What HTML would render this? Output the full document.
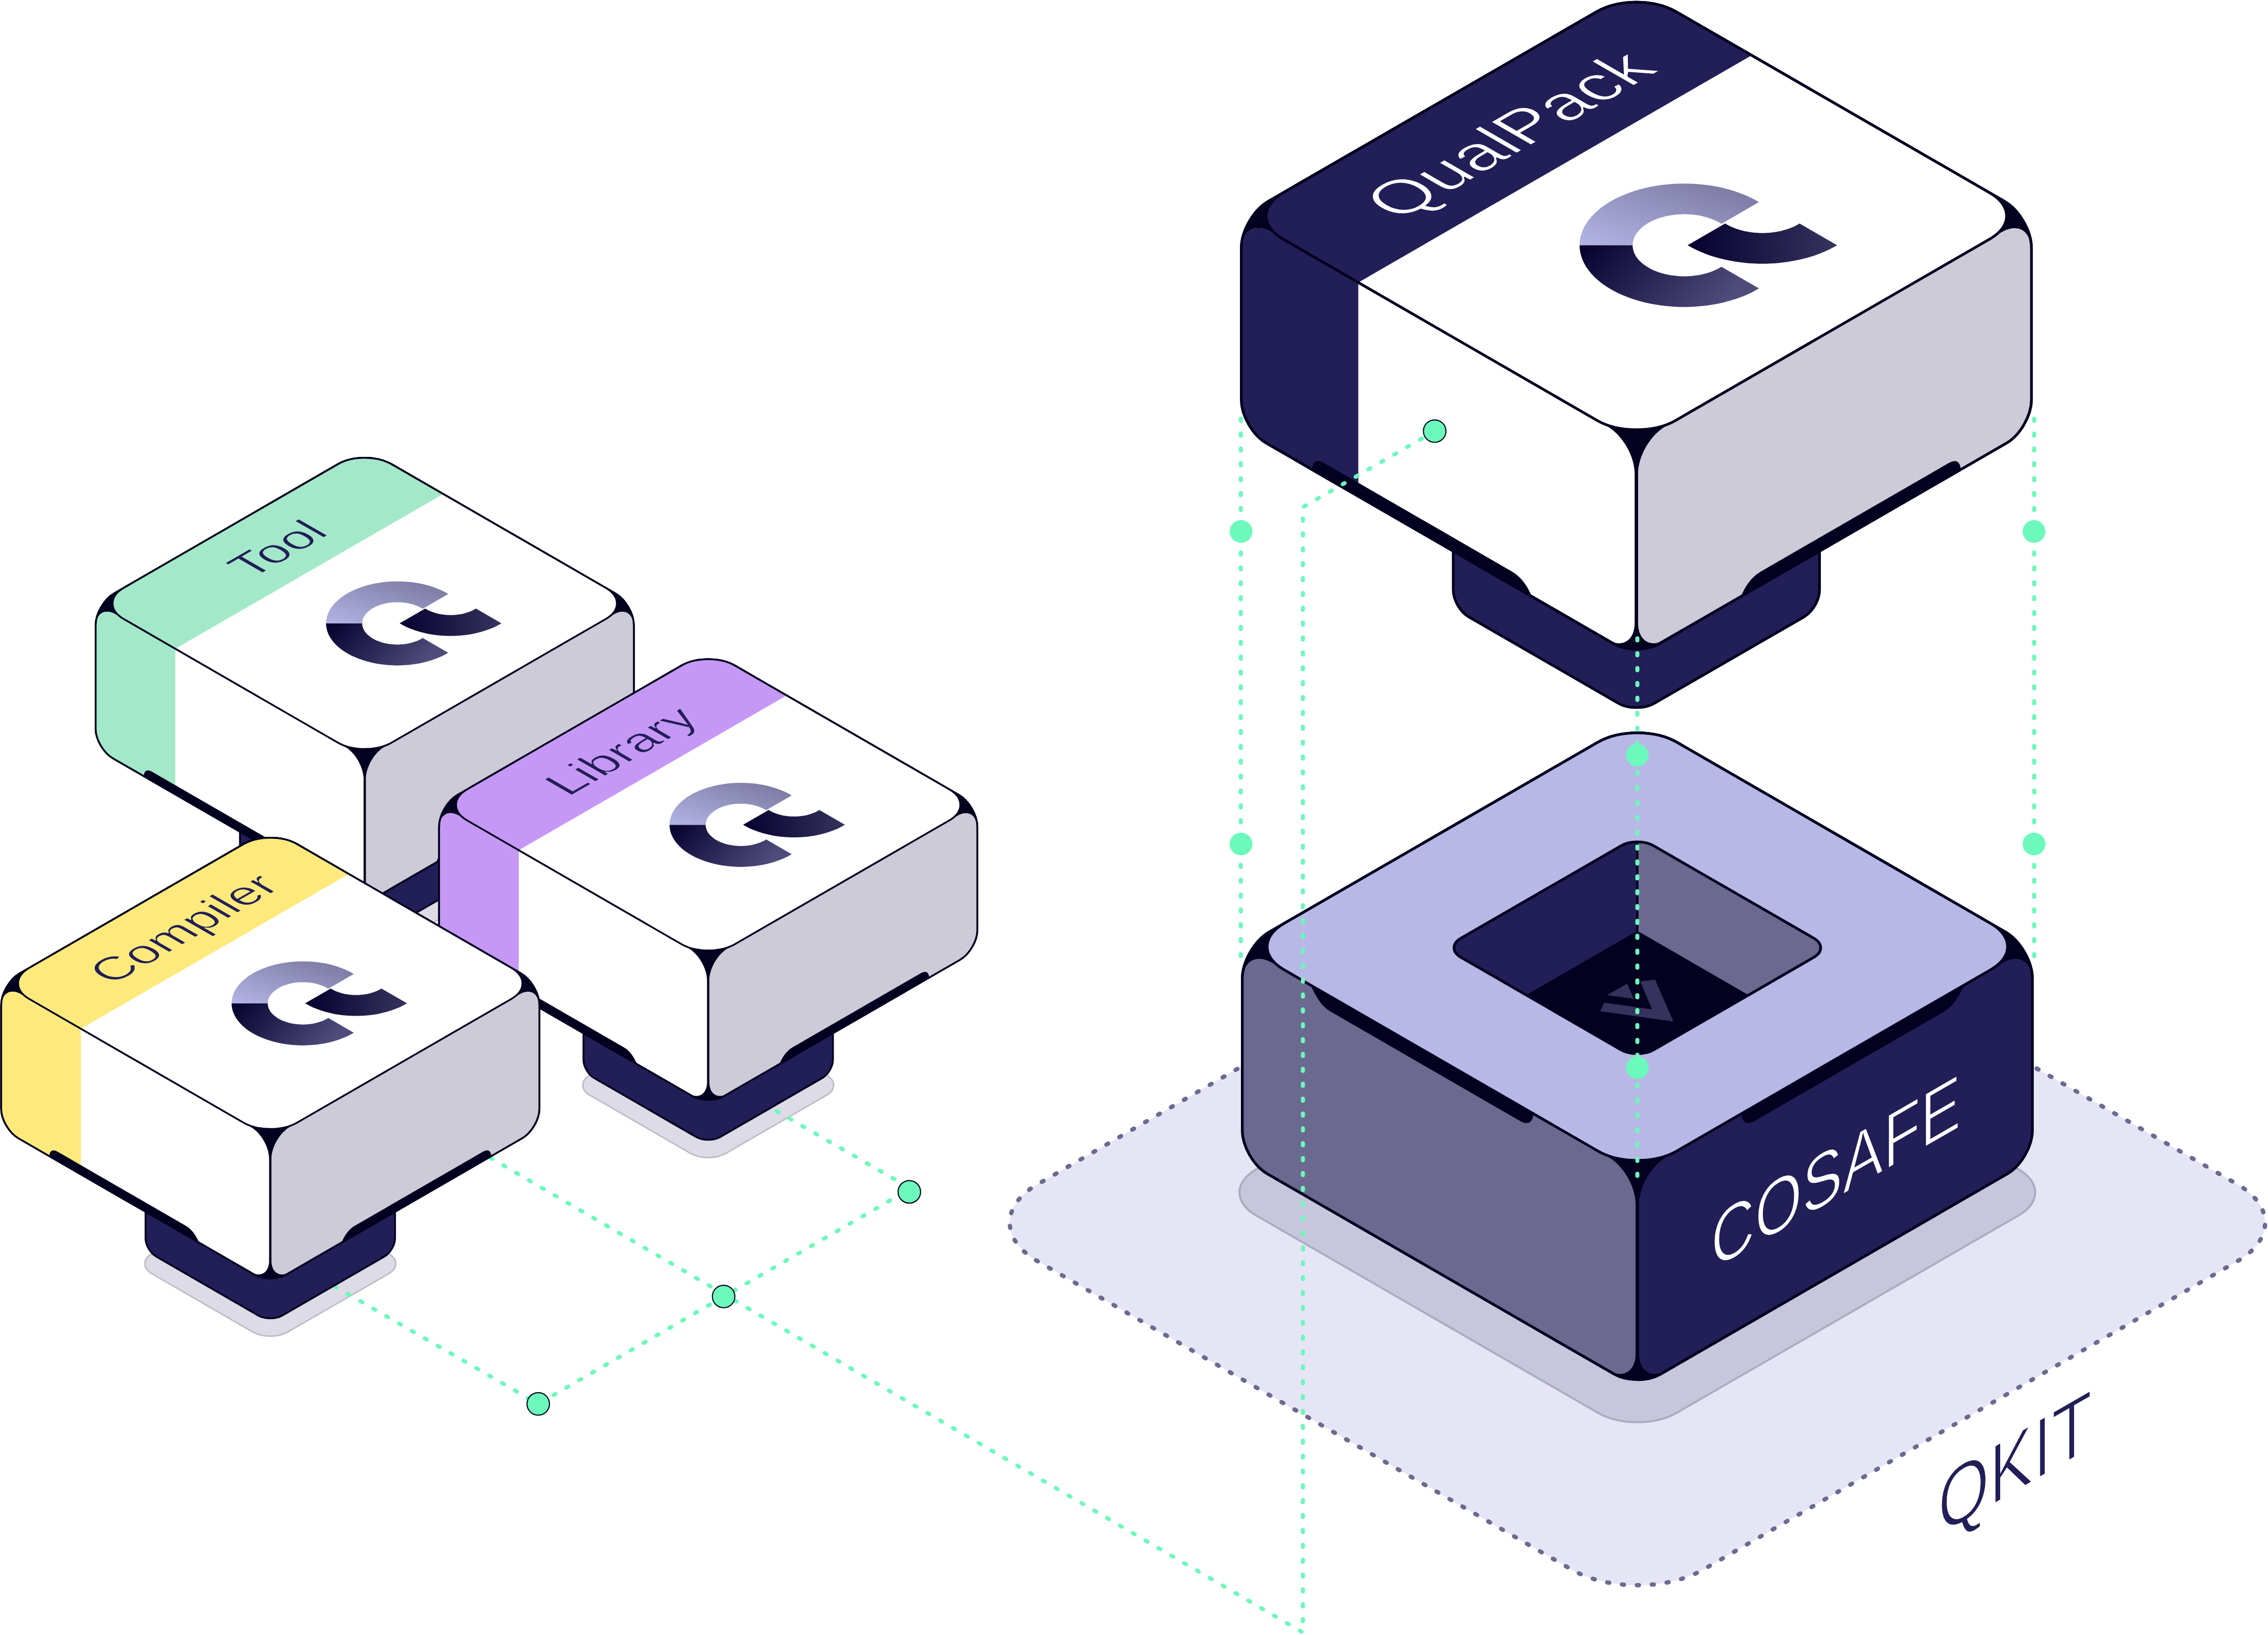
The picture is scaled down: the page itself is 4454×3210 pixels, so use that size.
<!DOCTYPE html>
<html><head><meta charset="utf-8"><style>html,body{margin:0;padding:0;background:#fff;overflow:hidden;}svg{display:block;}</style></head>
<body><svg width="4454" height="3210" viewBox="0 0 4454 3210"><defs>
<linearGradient id="lgU" x1="0" y1="1" x2="1" y2="0"><stop offset="0" stop-color="#b3b5e6"/><stop offset="1" stop-color="#77749b"/></linearGradient>
<linearGradient id="lgD" x1="0" y1="0" x2="1" y2="0.3"><stop offset="0" stop-color="#04002c"/><stop offset="1" stop-color="#4f4c7c"/></linearGradient>
<linearGradient id="lgT" x1="0" y1="0" x2="1" y2="0"><stop offset="0" stop-color="#05002d"/><stop offset="1" stop-color="#37335f"/></linearGradient>
</defs><path d="M3085.8 1720C3157.5 1678.5 3273.9 1678.5 3345.6 1720L4394.6 2325.6C4466.3 2367 4466.3 2434.2 4394.6 2475.6L3345.6 3081.2C3273.9 3122.7 3157.5 3122.7 3085.8 3081.2L2036.8 2475.6C1965.1 2434.2 1965.1 2367 2036.8 2325.6Z" fill="#e6e5f5"/><path d="M3085.8 1720C3157.5 1678.5 3273.9 1678.5 3345.6 1720L4394.6 2325.6C4466.3 2367 4466.3 2434.2 4394.6 2475.6L3345.6 3081.2C3273.9 3122.7 3157.5 3122.7 3085.8 3081.2L2036.8 2475.6C1965.1 2434.2 1965.1 2367 2036.8 2325.6Z" fill="none" stroke="#6c6a90" stroke-width="8.5" stroke-dasharray="4 25.3" stroke-linecap="round"/><path d="M3137.6 1908.6C3180.6 1883.7 3250.4 1883.7 3293.4 1908.6L3964.6 2296C4007.6 2320.9 4007.6 2361.2 3964.6 2386L3293.4 2773.5C3250.4 2798.4 3180.6 2798.4 3137.6 2773.5L2466.4 2386C2423.4 2361.2 2423.4 2320.9 2466.4 2296Z" fill="#c8c6dc" stroke="#adabc1" stroke-width="4"/><g transform="translate(716.3,880.9) scale(1.0)"><path d="M-34.6 720.2C-15.5 709.2 15.5 709.2 34.6 720.2L232 834.1C251.1 845.1 251.1 863.1 232 874.1L34.6 988C15.5 999 -15.5 999 -34.6 988L-232 874.1C-251.1 863.1 -251.1 845.1 -232 834.1Z" fill="#dcdbe6" stroke="#bebdc9" stroke-width="3"/></g><g transform="translate(1390.8,1276.4) scale(1.0)"><path d="M-34.6 720.2C-15.5 709.2 15.5 709.2 34.6 720.2L232 834.1C251.1 845.1 251.1 863.1 232 874.1L34.6 988C15.5 999 -15.5 999 -34.6 988L-232 874.1C-251.1 863.1 -251.1 845.1 -232 834.1Z" fill="#dcdbe6" stroke="#bebdc9" stroke-width="3"/></g><g transform="translate(530.8,1626.9) scale(1.0)"><path d="M-34.6 720.2C-15.5 709.2 15.5 709.2 34.6 720.2L232 834.1C251.1 845.1 251.1 863.1 232 874.1L34.6 988C15.5 999 -15.5 999 -34.6 988L-232 874.1C-251.1 863.1 -251.1 845.1 -232 834.1Z" fill="#dcdbe6" stroke="#bebdc9" stroke-width="3"/></g><path d="M1421 2540.5L880 2224.5" fill="none" stroke="#6cf9bb" stroke-width="8.0" stroke-dasharray="4 25.2" stroke-dashoffset="-3825.5620370936163" stroke-linecap="round" stroke-linejoin="round"/><path d="M1500 2166.9L1788.3 2333.4L1057 2756.3L640 2515.5" fill="none" stroke="#6cf9bb" stroke-width="8.0" stroke-dasharray="4 25.2" stroke-dashoffset="0" stroke-linecap="round" stroke-linejoin="round"/><g transform="translate(716.3,880.9) scale(1)"><path d="M-245 700L-245 804C-245 817.3 -235.7 833.4 -224.2 840L-24.2 955.5C-10.9 963.2 10.9 963.2 24.2 955.5L224.2 840C235.7 833.4 245 817.3 245 804L245 700" fill="#221e57" stroke="#03011f" stroke-width="3.6"/><path d="M-52.8 30.5C-23.7 13.7 23.7 13.7 52.8 30.5L492.1 284.1C512.2 295.7 528.5 323.9 528.5 347.1L528.5 549.3C528.5 570.8 513.4 597 494.7 607.8L31.2 875.4C14 885.4 -14 885.4 -31.2 875.4L-494.7 607.8C-513.4 597 -528.5 570.8 -528.5 549.3L-528.5 347.1C-528.5 323.9 -512.2 295.7 -492.1 284.1Z" fill="#03011f" stroke="#03011f" stroke-width="3.6" stroke-linejoin="round"/><path d="M-527.6 348C-527.6 323.1 -510.2 313.1 -488.6 325.5L-38.7 585.3C-18.6 596.9 -2.3 625.1 -2.3 648.3L-2.3 848.1C-2.3 872.4 -19.4 882.2 -40.4 870.1L-493.8 607.8C-512.5 597 -527.6 570.8 -527.6 549.3Z" fill="#ffffff"/><clipPath id="tlf"><path d="M-527.6 348C-527.6 323.1 -510.2 313.1 -488.6 325.5L-38.7 585.3C-18.6 596.9 -2.3 625.1 -2.3 648.3L-2.3 848.1C-2.3 872.4 -19.4 882.2 -40.4 870.1L-493.8 607.8C-512.5 597 -527.6 570.8 -527.6 549.3Z"/></clipPath><rect x="-540" y="250" width="168" height="700" fill="#a4e8ca" clip-path="url(#tlf)"/><path d="M2.3 648.3C2.3 625.1 18.6 596.9 38.7 585.3L488.6 325.5C510.2 313.1 527.6 323.1 527.6 348L527.6 549.3C527.6 570.8 512.5 597 493.8 607.8L40.4 870.1C19.4 882.2 2.3 872.4 2.3 848.1Z" fill="#cdcbd7"/><path d="M-434 644.9C-434 632.1 -427.7 628.5 -417.8 634.2L-166 779.6C-154 786.5 -145 799.8 -140 812.6L-140 814.6Z" fill="#03011f"/><path d="M434 644.9C434 632.1 427.7 628.5 417.8 634.2L166 779.6C154 786.5 145 799.8 140 812.6L140 814.6Z" fill="#03011f"/><path d="M-52.8 30.5C-23.7 13.7 23.7 13.7 52.8 30.5L492.1 284.1C512.2 295.7 528.5 323.9 528.5 347.1L528.5 549.3C528.5 570.8 513.4 597 494.7 607.8L31.2 875.4C14 885.4 -14 885.4 -31.2 875.4L-494.7 607.8C-513.4 597 -528.5 570.8 -528.5 549.3L-528.5 347.1C-528.5 323.9 -512.2 295.7 -492.1 284.1Z" fill="none" stroke="#03011f" stroke-width="3.6" stroke-linejoin="round"/><path d="M-52.8 30.5C-23.7 13.7 23.7 13.7 52.8 30.5L473.4 273.3C502.5 290.1 502.5 317.5 473.4 334.3L52.8 577.1C23.7 593.9 -23.7 593.9 -52.8 577.1L-473.4 334.3C-502.5 317.5 -502.5 290.1 -473.4 273.3Z" fill="#ffffff"/><clipPath id="ttf"><path d="M-52.8 30.5C-23.7 13.7 23.7 13.7 52.8 30.5L473.4 273.3C502.5 290.1 502.5 317.5 473.4 334.3L52.8 577.1C23.7 593.9 -23.7 593.9 -52.8 577.1L-473.4 334.3C-502.5 317.5 -502.5 290.1 -473.4 273.3Z"/></clipPath><path d="M-17.3 -10L180.1 74L-398 407.8L-569.5 308.8Z" fill="#a4e8ca" clip-path="url(#ttf)"/><path d="M-52.8 30.5C-23.7 13.7 23.7 13.7 52.8 30.5L473.4 273.3C502.5 290.1 502.5 317.5 473.4 334.3L52.8 577.1C23.7 593.9 -23.7 593.9 -52.8 577.1L-473.4 334.3C-502.5 317.5 -502.5 290.1 -473.4 273.3Z" fill="none" stroke="#03011f" stroke-width="3.6"/><path d="M-76 343L-75.8 338.1L-75 333.3L-73.8 328.4L-72.1 323.7L-69.9 319L-67.3 314.3L-64.2 309.8L-60.6 305.4L-56.6 301.1L-52.2 297L-47.4 293L-42.2 289.2L-36.6 285.6L-30.7 282.2L-24.4 279L-17.8 276.1L-11 273.3L-3.8 270.8L3.5 268.6L11.1 266.6L18.8 264.9L26.8 263.5L34.8 262.3L42.9 261.4L51.2 260.8L59.4 260.5L67.7 260.5L76 260.8L84.2 261.4L92.4 262.2L100.4 263.3L108.4 264.7L116.1 266.4L123.7 268.4L131.1 270.6L138.2 273.1L145.1 275.8L151.7 278.7L158 281.9L164 285.3L113.8 314.3L110.9 312.5L107.8 310.9L104.5 309.4L101.1 308L97.6 306.8L94 305.6L90.2 304.6L86.4 303.7L82.5 303L78.5 302.4L74.5 302L70.4 301.7L66.3 301.5L62.2 301.5L58.1 301.7L54 301.9L50 302.4L46 302.9L42.1 303.6L38.2 304.5L34.5 305.5L30.8 306.6L27.3 307.9L23.9 309.2L20.6 310.7L17.5 312.3L14.6 314L11.8 315.9L9.2 317.8L6.8 319.8L4.6 321.9L2.6 324L0.9 326.2L-0.7 328.5L-2 330.9L-3.1 333.2L-3.9 335.6L-4.5 338.1L-4.9 340.5L-5 343Z" fill="url(#lgU)"/><path d="M164 400.7L158 404.1L151.7 407.3L145.1 410.2L138.2 412.9L131.1 415.4L123.7 417.6L116.1 419.6L108.4 421.3L100.4 422.7L92.4 423.8L84.2 424.6L76 425.2L67.7 425.5L59.4 425.5L51.2 425.2L42.9 424.6L34.8 423.7L26.8 422.5L18.8 421.1L11.1 419.4L3.5 417.4L-3.8 415.2L-11 412.7L-17.8 409.9L-24.4 407L-30.7 403.8L-36.6 400.4L-42.2 396.8L-47.4 393L-52.2 389L-56.6 384.9L-60.6 380.6L-64.2 376.2L-67.3 371.7L-69.9 367L-72.1 362.3L-73.8 357.6L-75 352.7L-75.8 347.9L-76 343L-5 343L-4.9 345.5L-4.5 347.9L-3.9 350.4L-3.1 352.8L-2 355.1L-0.7 357.5L0.9 359.8L2.6 362L4.6 364.1L6.8 366.2L9.2 368.2L11.8 370.1L14.6 372L17.5 373.7L20.6 375.3L23.9 376.8L27.3 378.1L30.8 379.4L34.5 380.5L38.2 381.5L42.1 382.4L46 383.1L50 383.6L54 384.1L58.1 384.3L62.2 384.5L66.3 384.5L70.4 384.3L74.5 384L78.5 383.6L82.5 383L86.4 382.3L90.2 381.4L94 380.4L97.6 379.2L101.1 378L104.5 376.6L107.8 375.1L110.9 373.5L113.8 371.7Z" fill="url(#lgD)"/><path d="M268.5 342.9L264.6 345.2L260.4 347.4L256.2 349.5L251.7 351.5L247.2 353.4L242.5 355.2L237.7 356.9L232.9 358.4L227.9 359.9L222.8 361.2L217.6 362.4L212.3 363.5L207 364.5L201.6 365.3L196.2 366L190.7 366.6L185.2 367.1L179.7 367.4L174.1 367.6L168.5 367.6L163 367.6L157.4 367.4L151.9 367.1L146.3 366.6L140.9 366L135.4 365.3L130 364.5L124.7 363.5L119.5 362.4L114.3 361.2L109.2 359.9L104.2 358.4L99.3 356.9L94.5 355.2L89.9 353.4L85.3 351.5L80.9 349.5L76.6 347.4L72.5 345.2L68.5 342.9L118.8 313.9L120.7 315.1L122.8 316.2L124.9 317.3L127.1 318.3L129.3 319.3L131.6 320.2L134 321.1L136.5 321.9L138.9 322.6L141.5 323.3L144.1 324L146.7 324.5L149.3 325L152 325.4L154.7 325.8L157.5 326.1L160.2 326.3L163 326.5L165.7 326.6L168.5 326.6L171.3 326.6L174.1 326.5L176.8 326.3L179.6 326.1L182.3 325.8L185 325.4L187.7 325L190.4 324.5L193 324L195.6 323.3L198.1 322.6L200.6 321.9L203 321.1L205.4 320.2L207.7 319.3L210 318.3L212.2 317.3L214.3 316.2L216.3 315.1L218.3 313.9Z" fill="url(#lgT)"/><text transform="matrix(0.8660254,-0.5,0.8660254,0.5,-145.1,211.8)" font-family="'Liberation Sans', sans-serif" font-size="89.4" fill="#221e57" text-anchor="middle" textLength="178.7" lengthAdjust="spacingAndGlyphs" stroke="#a4e8ca" stroke-width="1.6">Tool</text></g><g transform="translate(1390.8,1276.4) scale(1)"><path d="M-245 700L-245 804C-245 817.3 -235.7 833.4 -224.2 840L-24.2 955.5C-10.9 963.2 10.9 963.2 24.2 955.5L224.2 840C235.7 833.4 245 817.3 245 804L245 700" fill="#221e57" stroke="#03011f" stroke-width="3.6"/><path d="M-52.8 30.5C-23.7 13.7 23.7 13.7 52.8 30.5L492.1 284.1C512.2 295.7 528.5 323.9 528.5 347.1L528.5 549.3C528.5 570.8 513.4 597 494.7 607.8L31.2 875.4C14 885.4 -14 885.4 -31.2 875.4L-494.7 607.8C-513.4 597 -528.5 570.8 -528.5 549.3L-528.5 347.1C-528.5 323.9 -512.2 295.7 -492.1 284.1Z" fill="#03011f" stroke="#03011f" stroke-width="3.6" stroke-linejoin="round"/><path d="M-527.6 348C-527.6 323.1 -510.2 313.1 -488.6 325.5L-38.7 585.3C-18.6 596.9 -2.3 625.1 -2.3 648.3L-2.3 848.1C-2.3 872.4 -19.4 882.2 -40.4 870.1L-493.8 607.8C-512.5 597 -527.6 570.8 -527.6 549.3Z" fill="#ffffff"/><clipPath id="llf"><path d="M-527.6 348C-527.6 323.1 -510.2 313.1 -488.6 325.5L-38.7 585.3C-18.6 596.9 -2.3 625.1 -2.3 648.3L-2.3 848.1C-2.3 872.4 -19.4 882.2 -40.4 870.1L-493.8 607.8C-512.5 597 -527.6 570.8 -527.6 549.3Z"/></clipPath><rect x="-540" y="250" width="168" height="700" fill="#c698f5" clip-path="url(#llf)"/><path d="M2.3 648.3C2.3 625.1 18.6 596.9 38.7 585.3L488.6 325.5C510.2 313.1 527.6 323.1 527.6 348L527.6 549.3C527.6 570.8 512.5 597 493.8 607.8L40.4 870.1C19.4 882.2 2.3 872.4 2.3 848.1Z" fill="#cdcbd7"/><path d="M-434 644.9C-434 632.1 -427.7 628.5 -417.8 634.2L-166 779.6C-154 786.5 -145 799.8 -140 812.6L-140 814.6Z" fill="#03011f"/><path d="M434 644.9C434 632.1 427.7 628.5 417.8 634.2L166 779.6C154 786.5 145 799.8 140 812.6L140 814.6Z" fill="#03011f"/><path d="M-52.8 30.5C-23.7 13.7 23.7 13.7 52.8 30.5L492.1 284.1C512.2 295.7 528.5 323.9 528.5 347.1L528.5 549.3C528.5 570.8 513.4 597 494.7 607.8L31.2 875.4C14 885.4 -14 885.4 -31.2 875.4L-494.7 607.8C-513.4 597 -528.5 570.8 -528.5 549.3L-528.5 347.1C-528.5 323.9 -512.2 295.7 -492.1 284.1Z" fill="none" stroke="#03011f" stroke-width="3.6" stroke-linejoin="round"/><path d="M-52.8 30.5C-23.7 13.7 23.7 13.7 52.8 30.5L473.4 273.3C502.5 290.1 502.5 317.5 473.4 334.3L52.8 577.1C23.7 593.9 -23.7 593.9 -52.8 577.1L-473.4 334.3C-502.5 317.5 -502.5 290.1 -473.4 273.3Z" fill="#ffffff"/><clipPath id="ltf"><path d="M-52.8 30.5C-23.7 13.7 23.7 13.7 52.8 30.5L473.4 273.3C502.5 290.1 502.5 317.5 473.4 334.3L52.8 577.1C23.7 593.9 -23.7 593.9 -52.8 577.1L-473.4 334.3C-502.5 317.5 -502.5 290.1 -473.4 273.3Z"/></clipPath><path d="M-17.3 -10L180.1 74L-398 407.8L-569.5 308.8Z" fill="#c698f5" clip-path="url(#ltf)"/><path d="M-52.8 30.5C-23.7 13.7 23.7 13.7 52.8 30.5L473.4 273.3C502.5 290.1 502.5 317.5 473.4 334.3L52.8 577.1C23.7 593.9 -23.7 593.9 -52.8 577.1L-473.4 334.3C-502.5 317.5 -502.5 290.1 -473.4 273.3Z" fill="none" stroke="#03011f" stroke-width="3.6"/><path d="M-76 343L-75.8 338.1L-75 333.3L-73.8 328.4L-72.1 323.7L-69.9 319L-67.3 314.3L-64.2 309.8L-60.6 305.4L-56.6 301.1L-52.2 297L-47.4 293L-42.2 289.2L-36.6 285.6L-30.7 282.2L-24.4 279L-17.8 276.1L-11 273.3L-3.8 270.8L3.5 268.6L11.1 266.6L18.8 264.9L26.8 263.5L34.8 262.3L42.9 261.4L51.2 260.8L59.4 260.5L67.7 260.5L76 260.8L84.2 261.4L92.4 262.2L100.4 263.3L108.4 264.7L116.1 266.4L123.7 268.4L131.1 270.6L138.2 273.1L145.1 275.8L151.7 278.7L158 281.9L164 285.3L113.8 314.3L110.9 312.5L107.8 310.9L104.5 309.4L101.1 308L97.6 306.8L94 305.6L90.2 304.6L86.4 303.7L82.5 303L78.5 302.4L74.5 302L70.4 301.7L66.3 301.5L62.2 301.5L58.1 301.7L54 301.9L50 302.4L46 302.9L42.1 303.6L38.2 304.5L34.5 305.5L30.8 306.6L27.3 307.9L23.9 309.2L20.6 310.7L17.5 312.3L14.6 314L11.8 315.9L9.2 317.8L6.8 319.8L4.6 321.9L2.6 324L0.9 326.2L-0.7 328.5L-2 330.9L-3.1 333.2L-3.9 335.6L-4.5 338.1L-4.9 340.5L-5 343Z" fill="url(#lgU)"/><path d="M164 400.7L158 404.1L151.7 407.3L145.1 410.2L138.2 412.9L131.1 415.4L123.7 417.6L116.1 419.6L108.4 421.3L100.4 422.7L92.4 423.8L84.2 424.6L76 425.2L67.7 425.5L59.4 425.5L51.2 425.2L42.9 424.6L34.8 423.7L26.8 422.5L18.8 421.1L11.1 419.4L3.5 417.4L-3.8 415.2L-11 412.7L-17.8 409.9L-24.4 407L-30.7 403.8L-36.6 400.4L-42.2 396.8L-47.4 393L-52.2 389L-56.6 384.9L-60.6 380.6L-64.2 376.2L-67.3 371.7L-69.9 367L-72.1 362.3L-73.8 357.6L-75 352.7L-75.8 347.9L-76 343L-5 343L-4.9 345.5L-4.5 347.9L-3.9 350.4L-3.1 352.8L-2 355.1L-0.7 357.5L0.9 359.8L2.6 362L4.6 364.1L6.8 366.2L9.2 368.2L11.8 370.1L14.6 372L17.5 373.7L20.6 375.3L23.9 376.8L27.3 378.1L30.8 379.4L34.5 380.5L38.2 381.5L42.1 382.4L46 383.1L50 383.6L54 384.1L58.1 384.3L62.2 384.5L66.3 384.5L70.4 384.3L74.5 384L78.5 383.6L82.5 383L86.4 382.3L90.2 381.4L94 380.4L97.6 379.2L101.1 378L104.5 376.6L107.8 375.1L110.9 373.5L113.8 371.7Z" fill="url(#lgD)"/><path d="M268.5 342.9L264.6 345.2L260.4 347.4L256.2 349.5L251.7 351.5L247.2 353.4L242.5 355.2L237.7 356.9L232.9 358.4L227.9 359.9L222.8 361.2L217.6 362.4L212.3 363.5L207 364.5L201.6 365.3L196.2 366L190.7 366.6L185.2 367.1L179.7 367.4L174.1 367.6L168.5 367.6L163 367.6L157.4 367.4L151.9 367.1L146.3 366.6L140.9 366L135.4 365.3L130 364.5L124.7 363.5L119.5 362.4L114.3 361.2L109.2 359.9L104.2 358.4L99.3 356.9L94.5 355.2L89.9 353.4L85.3 351.5L80.9 349.5L76.6 347.4L72.5 345.2L68.5 342.9L118.8 313.9L120.7 315.1L122.8 316.2L124.9 317.3L127.1 318.3L129.3 319.3L131.6 320.2L134 321.1L136.5 321.9L138.9 322.6L141.5 323.3L144.1 324L146.7 324.5L149.3 325L152 325.4L154.7 325.8L157.5 326.1L160.2 326.3L163 326.5L165.7 326.6L168.5 326.6L171.3 326.6L174.1 326.5L176.8 326.3L179.6 326.1L182.3 325.8L185 325.4L187.7 325L190.4 324.5L193 324L195.6 323.3L198.1 322.6L200.6 321.9L203 321.1L205.4 320.2L207.7 319.3L210 318.3L212.2 317.3L214.3 316.2L216.3 315.1L218.3 313.9Z" fill="url(#lgT)"/><text transform="matrix(0.8660254,-0.5,0.8660254,0.5,-144.2,213.2)" font-family="'Liberation Sans', sans-serif" font-size="89.4" fill="#221e57" text-anchor="middle" textLength="302" lengthAdjust="spacingAndGlyphs" stroke="#c698f5" stroke-width="1.6">Library</text></g><g transform="translate(530.8,1626.9) scale(1)"><path d="M-245 700L-245 804C-245 817.3 -235.7 833.4 -224.2 840L-24.2 955.5C-10.9 963.2 10.9 963.2 24.2 955.5L224.2 840C235.7 833.4 245 817.3 245 804L245 700" fill="#221e57" stroke="#03011f" stroke-width="3.6"/><path d="M-52.8 30.5C-23.7 13.7 23.7 13.7 52.8 30.5L492.1 284.1C512.2 295.7 528.5 323.9 528.5 347.1L528.5 549.3C528.5 570.8 513.4 597 494.7 607.8L31.2 875.4C14 885.4 -14 885.4 -31.2 875.4L-494.7 607.8C-513.4 597 -528.5 570.8 -528.5 549.3L-528.5 347.1C-528.5 323.9 -512.2 295.7 -492.1 284.1Z" fill="#03011f" stroke="#03011f" stroke-width="3.6" stroke-linejoin="round"/><path d="M-527.6 348C-527.6 323.1 -510.2 313.1 -488.6 325.5L-38.7 585.3C-18.6 596.9 -2.3 625.1 -2.3 648.3L-2.3 848.1C-2.3 872.4 -19.4 882.2 -40.4 870.1L-493.8 607.8C-512.5 597 -527.6 570.8 -527.6 549.3Z" fill="#ffffff"/><clipPath id="clf"><path d="M-527.6 348C-527.6 323.1 -510.2 313.1 -488.6 325.5L-38.7 585.3C-18.6 596.9 -2.3 625.1 -2.3 648.3L-2.3 848.1C-2.3 872.4 -19.4 882.2 -40.4 870.1L-493.8 607.8C-512.5 597 -527.6 570.8 -527.6 549.3Z"/></clipPath><rect x="-540" y="250" width="168" height="700" fill="#feea7c" clip-path="url(#clf)"/><path d="M2.3 648.3C2.3 625.1 18.6 596.9 38.7 585.3L488.6 325.5C510.2 313.1 527.6 323.1 527.6 348L527.6 549.3C527.6 570.8 512.5 597 493.8 607.8L40.4 870.1C19.4 882.2 2.3 872.4 2.3 848.1Z" fill="#cdcbd7"/><path d="M-434 644.9C-434 632.1 -427.7 628.5 -417.8 634.2L-166 779.6C-154 786.5 -145 799.8 -140 812.6L-140 814.6Z" fill="#03011f"/><path d="M434 644.9C434 632.1 427.7 628.5 417.8 634.2L166 779.6C154 786.5 145 799.8 140 812.6L140 814.6Z" fill="#03011f"/><path d="M-52.8 30.5C-23.7 13.7 23.7 13.7 52.8 30.5L492.1 284.1C512.2 295.7 528.5 323.9 528.5 347.1L528.5 549.3C528.5 570.8 513.4 597 494.7 607.8L31.2 875.4C14 885.4 -14 885.4 -31.2 875.4L-494.7 607.8C-513.4 597 -528.5 570.8 -528.5 549.3L-528.5 347.1C-528.5 323.9 -512.2 295.7 -492.1 284.1Z" fill="none" stroke="#03011f" stroke-width="3.6" stroke-linejoin="round"/><path d="M-52.8 30.5C-23.7 13.7 23.7 13.7 52.8 30.5L473.4 273.3C502.5 290.1 502.5 317.5 473.4 334.3L52.8 577.1C23.7 593.9 -23.7 593.9 -52.8 577.1L-473.4 334.3C-502.5 317.5 -502.5 290.1 -473.4 273.3Z" fill="#ffffff"/><clipPath id="ctf"><path d="M-52.8 30.5C-23.7 13.7 23.7 13.7 52.8 30.5L473.4 273.3C502.5 290.1 502.5 317.5 473.4 334.3L52.8 577.1C23.7 593.9 -23.7 593.9 -52.8 577.1L-473.4 334.3C-502.5 317.5 -502.5 290.1 -473.4 273.3Z"/></clipPath><path d="M-17.3 -10L180.1 74L-398 407.8L-569.5 308.8Z" fill="#feea7c" clip-path="url(#ctf)"/><path d="M-52.8 30.5C-23.7 13.7 23.7 13.7 52.8 30.5L473.4 273.3C502.5 290.1 502.5 317.5 473.4 334.3L52.8 577.1C23.7 593.9 -23.7 593.9 -52.8 577.1L-473.4 334.3C-502.5 317.5 -502.5 290.1 -473.4 273.3Z" fill="none" stroke="#03011f" stroke-width="3.6"/><path d="M-76 343L-75.8 338.1L-75 333.3L-73.8 328.4L-72.1 323.7L-69.9 319L-67.3 314.3L-64.2 309.8L-60.6 305.4L-56.6 301.1L-52.2 297L-47.4 293L-42.2 289.2L-36.6 285.6L-30.7 282.2L-24.4 279L-17.8 276.1L-11 273.3L-3.8 270.8L3.5 268.6L11.1 266.6L18.8 264.9L26.8 263.5L34.8 262.3L42.9 261.4L51.2 260.8L59.4 260.5L67.7 260.5L76 260.8L84.2 261.4L92.4 262.2L100.4 263.3L108.4 264.7L116.1 266.4L123.7 268.4L131.1 270.6L138.2 273.1L145.1 275.8L151.7 278.7L158 281.9L164 285.3L113.8 314.3L110.9 312.5L107.8 310.9L104.5 309.4L101.1 308L97.6 306.8L94 305.6L90.2 304.6L86.4 303.7L82.5 303L78.5 302.4L74.5 302L70.4 301.7L66.3 301.5L62.2 301.5L58.1 301.7L54 301.9L50 302.4L46 302.9L42.1 303.6L38.2 304.5L34.5 305.5L30.8 306.6L27.3 307.9L23.9 309.2L20.6 310.7L17.5 312.3L14.6 314L11.8 315.9L9.2 317.8L6.8 319.8L4.6 321.9L2.6 324L0.9 326.2L-0.7 328.5L-2 330.9L-3.1 333.2L-3.9 335.6L-4.5 338.1L-4.9 340.5L-5 343Z" fill="url(#lgU)"/><path d="M164 400.7L158 404.1L151.7 407.3L145.1 410.2L138.2 412.9L131.1 415.4L123.7 417.6L116.1 419.6L108.4 421.3L100.4 422.7L92.4 423.8L84.2 424.6L76 425.2L67.7 425.5L59.4 425.5L51.2 425.2L42.9 424.6L34.8 423.7L26.8 422.5L18.8 421.1L11.1 419.4L3.5 417.4L-3.8 415.2L-11 412.7L-17.8 409.9L-24.4 407L-30.7 403.8L-36.6 400.4L-42.2 396.8L-47.4 393L-52.2 389L-56.6 384.9L-60.6 380.6L-64.2 376.2L-67.3 371.7L-69.9 367L-72.1 362.3L-73.8 357.6L-75 352.7L-75.8 347.9L-76 343L-5 343L-4.9 345.5L-4.5 347.9L-3.9 350.4L-3.1 352.8L-2 355.1L-0.7 357.5L0.9 359.8L2.6 362L4.6 364.1L6.8 366.2L9.2 368.2L11.8 370.1L14.6 372L17.5 373.7L20.6 375.3L23.9 376.8L27.3 378.1L30.8 379.4L34.5 380.5L38.2 381.5L42.1 382.4L46 383.1L50 383.6L54 384.1L58.1 384.3L62.2 384.5L66.3 384.5L70.4 384.3L74.5 384L78.5 383.6L82.5 383L86.4 382.3L90.2 381.4L94 380.4L97.6 379.2L101.1 378L104.5 376.6L107.8 375.1L110.9 373.5L113.8 371.7Z" fill="url(#lgD)"/><path d="M268.5 342.9L264.6 345.2L260.4 347.4L256.2 349.5L251.7 351.5L247.2 353.4L242.5 355.2L237.7 356.9L232.9 358.4L227.9 359.9L222.8 361.2L217.6 362.4L212.3 363.5L207 364.5L201.6 365.3L196.2 366L190.7 366.6L185.2 367.1L179.7 367.4L174.1 367.6L168.5 367.6L163 367.6L157.4 367.4L151.9 367.1L146.3 366.6L140.9 366L135.4 365.3L130 364.5L124.7 363.5L119.5 362.4L114.3 361.2L109.2 359.9L104.2 358.4L99.3 356.9L94.5 355.2L89.9 353.4L85.3 351.5L80.9 349.5L76.6 347.4L72.5 345.2L68.5 342.9L118.8 313.9L120.7 315.1L122.8 316.2L124.9 317.3L127.1 318.3L129.3 319.3L131.6 320.2L134 321.1L136.5 321.9L138.9 322.6L141.5 323.3L144.1 324L146.7 324.5L149.3 325L152 325.4L154.7 325.8L157.5 326.1L160.2 326.3L163 326.5L165.7 326.6L168.5 326.6L171.3 326.6L174.1 326.5L176.8 326.3L179.6 326.1L182.3 325.8L185 325.4L187.7 325L190.4 324.5L193 324L195.6 323.3L198.1 322.6L200.6 321.9L203 321.1L205.4 320.2L207.7 319.3L210 318.3L212.2 317.3L214.3 316.2L216.3 315.1L218.3 313.9Z" fill="url(#lgT)"/><text transform="matrix(0.8660254,-0.5,0.8660254,0.5,-144.1,211.1)" font-family="'Liberation Sans', sans-serif" font-size="89.4" fill="#221e57" text-anchor="middle" textLength="385" lengthAdjust="spacingAndGlyphs" stroke="#feea7c" stroke-width="1.6">Compiler</text></g><g transform="translate(3215.5,1412.5) scale(1.468)"><path d="M-52.8 30.5C-23.7 13.7 23.7 13.7 52.8 30.5L492.1 284.1C512.2 295.7 528.5 323.9 528.5 347.1L528.5 549.3C528.5 570.8 513.4 597 494.7 607.8L31.2 875.4C14 885.4 -14 885.4 -31.2 875.4L-494.7 607.8C-513.4 597 -528.5 570.8 -528.5 549.3L-528.5 347.1C-528.5 323.9 -512.2 295.7 -492.1 284.1Z" fill="#03011f" stroke="#03011f" stroke-width="3.6" stroke-linejoin="round"/><path d="M-527.6 348C-527.6 323.1 -510.2 313.1 -488.6 325.5L-38.7 585.3C-18.6 596.9 -2.3 625.1 -2.3 648.3L-2.3 848.1C-2.3 872.4 -19.4 882.2 -40.4 870.1L-493.8 607.8C-512.5 597 -527.6 570.8 -527.6 549.3Z" fill="#6b698f"/><path d="M2.3 648.3C2.3 625.1 18.6 596.9 38.7 585.3L488.6 325.5C510.2 313.1 527.6 323.1 527.6 348L527.6 549.3C527.6 570.8 512.5 597 493.8 607.8L40.4 870.1C19.4 882.2 2.3 872.4 2.3 848.1Z" fill="#221e57"/><path d="M-441 351L-437 355.3C-431 368.8 -423 383.4 -411 390.3L-157 537C-145 543.9 -139 537.4 -139 525.4Z" fill="#03011f"/><path d="M441 351L437 355.3C431 368.8 423 383.4 411 390.3L157 537C145 543.9 139 537.4 139 525.4Z" fill="#03011f"/><path d="M-52.8 30.5C-23.7 13.7 23.7 13.7 52.8 30.5L492.1 284.1C512.2 295.7 528.5 323.9 528.5 347.1L528.5 549.3C528.5 570.8 513.4 597 494.7 607.8L31.2 875.4C14 885.4 -14 885.4 -31.2 875.4L-494.7 607.8C-513.4 597 -528.5 570.8 -528.5 549.3L-528.5 347.1C-528.5 323.9 -512.2 295.7 -492.1 284.1Z" fill="none" stroke="#03011f" stroke-width="3.6" stroke-linejoin="round"/><path d="M-52.8 30.5C-23.7 13.7 23.7 13.7 52.8 30.5L473.4 273.3C502.5 290.1 502.5 317.5 473.4 334.3L52.8 577.1C23.7 593.9 -23.7 593.9 -52.8 577.1L-473.4 334.3C-502.5 317.5 -502.5 290.1 -473.4 273.3Z" fill="#b7b8e6"/><clipPath id="kho"><path d="M-22.1 169.1C-9.9 162 9.9 162 22.1 169.1L236.1 292.6C248.3 299.7 248.3 311.1 236.1 318.1L22.1 441.7C9.9 448.7 -9.9 448.7 -22.1 441.7L-236.1 318.1C-248.3 311.1 -248.3 299.7 -236.1 292.6Z"/></clipPath><g clip-path="url(#kho)"><rect x="-300" y="100" width="600" height="500" fill="#03011f"/><path d="M-318.2 340L0 156.3L0 282.7L-318.2 466.4Z" fill="#221e57"/><path d="M0 156.3L318.2 340L318.2 466.4L0 282.7Z" fill="#6b698f"/><line x1="0" y1="156.3" x2="0" y2="282.7" stroke="#03011f" stroke-width="3"/><path d="M3.9 350.5L23.7 347.9L48.2 404L-49.7 390.2L-44.3 378.7L19.7 387.8Z" fill="#35325d"/><path d="M-40.4 368.7L-13.6 353.4L-4.7 373.6Z" fill="#35325d"/></g><path d="M-22.1 169.1C-9.9 162 9.9 162 22.1 169.1L236.1 292.6C248.3 299.7 248.3 311.1 236.1 318.1L22.1 441.7C9.9 448.7 -9.9 448.7 -22.1 441.7L-236.1 318.1C-248.3 311.1 -248.3 299.7 -236.1 292.6Z" fill="none" stroke="#03011f" stroke-width="3.6"/><path d="M-52.8 30.5C-23.7 13.7 23.7 13.7 52.8 30.5L473.4 273.3C502.5 290.1 502.5 317.5 473.4 334.3L52.8 577.1C23.7 593.9 -23.7 593.9 -52.8 577.1L-473.4 334.3C-502.5 317.5 -502.5 290.1 -473.4 273.3Z" fill="none" stroke="#03011f" stroke-width="3.6"/></g><g transform="translate(3213.6,-22) scale(1.468)"><path d="M-245 700L-245 804C-245 817.3 -235.7 833.4 -224.2 840L-24.2 955.5C-10.9 963.2 10.9 963.2 24.2 955.5L224.2 840C235.7 833.4 245 817.3 245 804L245 700" fill="#221e57" stroke="#03011f" stroke-width="3.6"/><path d="M-52.8 30.5C-23.7 13.7 23.7 13.7 52.8 30.5L492.1 284.1C512.2 295.7 528.5 323.9 528.5 347.1L528.5 549.3C528.5 570.8 513.4 597 494.7 607.8L31.2 875.4C14 885.4 -14 885.4 -31.2 875.4L-494.7 607.8C-513.4 597 -528.5 570.8 -528.5 549.3L-528.5 347.1C-528.5 323.9 -512.2 295.7 -492.1 284.1Z" fill="#03011f" stroke="#03011f" stroke-width="3.6" stroke-linejoin="round"/><path d="M-527.6 348C-527.6 323.1 -510.2 313.1 -488.6 325.5L-38.7 585.3C-18.6 596.9 -2.3 625.1 -2.3 648.3L-2.3 848.1C-2.3 872.4 -19.4 882.2 -40.4 870.1L-493.8 607.8C-512.5 597 -527.6 570.8 -527.6 549.3Z" fill="#ffffff"/><clipPath id="qlf"><path d="M-527.6 348C-527.6 323.1 -510.2 313.1 -488.6 325.5L-38.7 585.3C-18.6 596.9 -2.3 625.1 -2.3 648.3L-2.3 848.1C-2.3 872.4 -19.4 882.2 -40.4 870.1L-493.8 607.8C-512.5 597 -527.6 570.8 -527.6 549.3Z"/></clipPath><rect x="-540" y="250" width="168" height="700" fill="#221e57" clip-path="url(#qlf)"/><path d="M2.3 648.3C2.3 625.1 18.6 596.9 38.7 585.3L488.6 325.5C510.2 313.1 527.6 323.1 527.6 348L527.6 549.3C527.6 570.8 512.5 597 493.8 607.8L40.4 870.1C19.4 882.2 2.3 872.4 2.3 848.1Z" fill="#cdcbd7"/><path d="M-434 644.9C-434 632.1 -427.7 628.5 -417.8 634.2L-166 779.6C-154 786.5 -145 799.8 -140 812.6L-140 814.6Z" fill="#03011f"/><path d="M434 644.9C434 632.1 427.7 628.5 417.8 634.2L166 779.6C154 786.5 145 799.8 140 812.6L140 814.6Z" fill="#03011f"/><path d="M-52.8 30.5C-23.7 13.7 23.7 13.7 52.8 30.5L492.1 284.1C512.2 295.7 528.5 323.9 528.5 347.1L528.5 549.3C528.5 570.8 513.4 597 494.7 607.8L31.2 875.4C14 885.4 -14 885.4 -31.2 875.4L-494.7 607.8C-513.4 597 -528.5 570.8 -528.5 549.3L-528.5 347.1C-528.5 323.9 -512.2 295.7 -492.1 284.1Z" fill="none" stroke="#03011f" stroke-width="3.6" stroke-linejoin="round"/><path d="M-52.8 30.5C-23.7 13.7 23.7 13.7 52.8 30.5L473.4 273.3C502.5 290.1 502.5 317.5 473.4 334.3L52.8 577.1C23.7 593.9 -23.7 593.9 -52.8 577.1L-473.4 334.3C-502.5 317.5 -502.5 290.1 -473.4 273.3Z" fill="#ffffff"/><clipPath id="qtf"><path d="M-52.8 30.5C-23.7 13.7 23.7 13.7 52.8 30.5L473.4 273.3C502.5 290.1 502.5 317.5 473.4 334.3L52.8 577.1C23.7 593.9 -23.7 593.9 -52.8 577.1L-473.4 334.3C-502.5 317.5 -502.5 290.1 -473.4 273.3Z"/></clipPath><path d="M-17.3 -10L180.1 74L-398 407.8L-569.5 308.8Z" fill="#221e57" clip-path="url(#qtf)"/><path d="M-52.8 30.5C-23.7 13.7 23.7 13.7 52.8 30.5L473.4 273.3C502.5 290.1 502.5 317.5 473.4 334.3L52.8 577.1C23.7 593.9 -23.7 593.9 -52.8 577.1L-473.4 334.3C-502.5 317.5 -502.5 290.1 -473.4 273.3Z" fill="none" stroke="#03011f" stroke-width="3.6"/><path d="M-76 343L-75.8 338.1L-75 333.3L-73.8 328.4L-72.1 323.7L-69.9 319L-67.3 314.3L-64.2 309.8L-60.6 305.4L-56.6 301.1L-52.2 297L-47.4 293L-42.2 289.2L-36.6 285.6L-30.7 282.2L-24.4 279L-17.8 276.1L-11 273.3L-3.8 270.8L3.5 268.6L11.1 266.6L18.8 264.9L26.8 263.5L34.8 262.3L42.9 261.4L51.2 260.8L59.4 260.5L67.7 260.5L76 260.8L84.2 261.4L92.4 262.2L100.4 263.3L108.4 264.7L116.1 266.4L123.7 268.4L131.1 270.6L138.2 273.1L145.1 275.8L151.7 278.7L158 281.9L164 285.3L113.8 314.3L110.9 312.5L107.8 310.9L104.5 309.4L101.1 308L97.6 306.8L94 305.6L90.2 304.6L86.4 303.7L82.5 303L78.5 302.4L74.5 302L70.4 301.7L66.3 301.5L62.2 301.5L58.1 301.7L54 301.9L50 302.4L46 302.9L42.1 303.6L38.2 304.5L34.5 305.5L30.8 306.6L27.3 307.9L23.9 309.2L20.6 310.7L17.5 312.3L14.6 314L11.8 315.9L9.2 317.8L6.8 319.8L4.6 321.9L2.6 324L0.9 326.2L-0.7 328.5L-2 330.9L-3.1 333.2L-3.9 335.6L-4.5 338.1L-4.9 340.5L-5 343Z" fill="url(#lgU)"/><path d="M164 400.7L158 404.1L151.7 407.3L145.1 410.2L138.2 412.9L131.1 415.4L123.7 417.6L116.1 419.6L108.4 421.3L100.4 422.7L92.4 423.8L84.2 424.6L76 425.2L67.7 425.5L59.4 425.5L51.2 425.2L42.9 424.6L34.8 423.7L26.8 422.5L18.8 421.1L11.1 419.4L3.5 417.4L-3.8 415.2L-11 412.7L-17.8 409.9L-24.4 407L-30.7 403.8L-36.6 400.4L-42.2 396.8L-47.4 393L-52.2 389L-56.6 384.9L-60.6 380.6L-64.2 376.2L-67.3 371.7L-69.9 367L-72.1 362.3L-73.8 357.6L-75 352.7L-75.8 347.9L-76 343L-5 343L-4.9 345.5L-4.5 347.9L-3.9 350.4L-3.1 352.8L-2 355.1L-0.7 357.5L0.9 359.8L2.6 362L4.6 364.1L6.8 366.2L9.2 368.2L11.8 370.1L14.6 372L17.5 373.7L20.6 375.3L23.9 376.8L27.3 378.1L30.8 379.4L34.5 380.5L38.2 381.5L42.1 382.4L46 383.1L50 383.6L54 384.1L58.1 384.3L62.2 384.5L66.3 384.5L70.4 384.3L74.5 384L78.5 383.6L82.5 383L86.4 382.3L90.2 381.4L94 380.4L97.6 379.2L101.1 378L104.5 376.6L107.8 375.1L110.9 373.5L113.8 371.7Z" fill="url(#lgD)"/><path d="M268.5 342.9L264.6 345.2L260.4 347.4L256.2 349.5L251.7 351.5L247.2 353.4L242.5 355.2L237.7 356.9L232.9 358.4L227.9 359.9L222.8 361.2L217.6 362.4L212.3 363.5L207 364.5L201.6 365.3L196.2 366L190.7 366.6L185.2 367.1L179.7 367.4L174.1 367.6L168.5 367.6L163 367.6L157.4 367.4L151.9 367.1L146.3 366.6L140.9 366L135.4 365.3L130 364.5L124.7 363.5L119.5 362.4L114.3 361.2L109.2 359.9L104.2 358.4L99.3 356.9L94.5 355.2L89.9 353.4L85.3 351.5L80.9 349.5L76.6 347.4L72.5 345.2L68.5 342.9L118.8 313.9L120.7 315.1L122.8 316.2L124.9 317.3L127.1 318.3L129.3 319.3L131.6 320.2L134 321.1L136.5 321.9L138.9 322.6L141.5 323.3L144.1 324L146.7 324.5L149.3 325L152 325.4L154.7 325.8L157.5 326.1L160.2 326.3L163 326.5L165.7 326.6L168.5 326.6L171.3 326.6L174.1 326.5L176.8 326.3L179.6 326.1L182.3 325.8L185 325.4L187.7 325L190.4 324.5L193 324L195.6 323.3L198.1 322.6L200.6 321.9L203 321.1L205.4 320.2L207.7 319.3L210 318.3L212.2 317.3L214.3 316.2L216.3 315.1L218.3 313.9Z" fill="url(#lgT)"/><text transform="matrix(0.8660254,-0.5,0.8660254,0.5,-143.3,210.2)" font-family="'Liberation Sans', sans-serif" font-size="89.4" fill="#ffffff" text-anchor="middle" textLength="403" lengthAdjust="spacingAndGlyphs" stroke="#221e57" stroke-width="1.6">QualPack</text></g><path d="M2817.5 846.4L2558.7 995.8L2558.7 3205L1421 2540.5" fill="none" stroke="#6cf9bb" stroke-width="8.0" stroke-dasharray="4 25.2" stroke-dashoffset="0" stroke-linecap="round" stroke-linejoin="round"/><path d="M2436.8 822L2436.8 1882" fill="none" stroke="#6cf9bb" stroke-width="8.0" stroke-dasharray="4 25.2" stroke-dashoffset="0" stroke-linecap="round" stroke-linejoin="round"/><path d="M3994.8 822L3994.8 1882" fill="none" stroke="#6cf9bb" stroke-width="8.0" stroke-dasharray="4 25.2" stroke-dashoffset="0" stroke-linecap="round" stroke-linejoin="round"/><path d="M3215.5 1253.3L3215.5 2312" fill="none" stroke="#6cf9bb" stroke-width="8.0" stroke-dasharray="4 25.2" stroke-dashoffset="0" stroke-linecap="round" stroke-linejoin="round"/><circle cx="2437.2" cy="1043.4" r="22.3" fill="#6cf9bb"/><circle cx="2437.2" cy="1657" r="22.3" fill="#6cf9bb"/><circle cx="3994.5" cy="1043.4" r="22.3" fill="#6cf9bb"/><circle cx="3994.5" cy="1657" r="22.3" fill="#6cf9bb"/><circle cx="3215.5" cy="1482.5" r="22.3" fill="#6cf9bb"/><circle cx="3215.5" cy="2096.2" r="22.3" fill="#6cf9bb"/><circle cx="2817.5" cy="846.4" r="22.1" fill="#6cf9bb" stroke="#03011f" stroke-width="2.2"/><circle cx="1421.1" cy="2545.4" r="22.1" fill="#6cf9bb" stroke="#03011f" stroke-width="2.2"/><circle cx="1785.8" cy="2340" r="22.1" fill="#6cf9bb" stroke="#03011f" stroke-width="2.2"/><circle cx="1057" cy="2756.3" r="22.1" fill="#6cf9bb" stroke="#03011f" stroke-width="2.2"/><text transform="translate(3360,2495) skewY(-30)" font-family="'Liberation Sans', sans-serif" font-size="152" fill="#ffffff" textLength="491" lengthAdjust="spacingAndGlyphs" stroke="#221e57" stroke-width="3.2">COSAFE</text><text transform="translate(3806,3016) skewY(-30)" font-family="'Liberation Sans', sans-serif" font-size="165" fill="#221e57" textLength="302" lengthAdjust="spacingAndGlyphs" stroke="#ffffff" stroke-width="3.5">QKIT</text></svg></body></html>
